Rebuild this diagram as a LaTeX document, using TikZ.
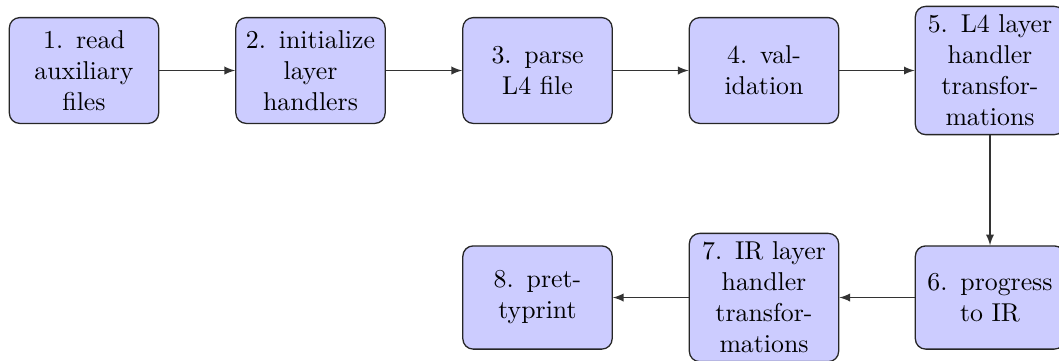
\documentclass[tikz,border=0pt]{standalone}
\usetikzlibrary{arrows}
\definecolor{boxfill}{RGB}{204,204,255}
\begin{document}
\begin{tikzpicture}[x=0.3876pt,y=-0.3876pt,
  stepbox/.style={draw=black!85, fill=boxfill, rounded corners=4pt, text width=1.8cm,
    align=center, minimum height=41pt, inner sep=3.33pt, line width=0.5pt},
  flow/.style={draw=black!80, -latex, line width=0.45pt}]
\useasboundingbox (0,0) rectangle (1059,360);
\node[stepbox] (n1) at (84,70.5) {1. read auxiliary files};
\node[stepbox] (n2) at (310.5,70.5) {2. initialize layer handlers};
\node[stepbox] (n3) at (537.5,70.5) {3. parse L4 file};
\node[stepbox] (n4) at (764,70.5) {4. validation};
\node[stepbox] (n5) at (990,70.5) {5. L4 layer handler transformations};
\node[stepbox, minimum height=40pt] (n6) at (990,297.5) {6. progress to IR};
\node[stepbox] (n7) at (764,297.5) {7. IR layer handler transformations};
\node[stepbox, minimum height=40pt] (n8) at (537.5,297.5) {8. prettyprint};
\draw[flow] (n1) -- (n2);
\draw[flow] (n2) -- (n3);
\draw[flow] (n3) -- (n4);
\draw[flow] (n4) -- (n5);
\draw[flow] (n5) -- (n6);
\draw[flow] (n6) -- (n7);
\draw[flow] (n7) -- (n8);
\end{tikzpicture}
\end{document}
